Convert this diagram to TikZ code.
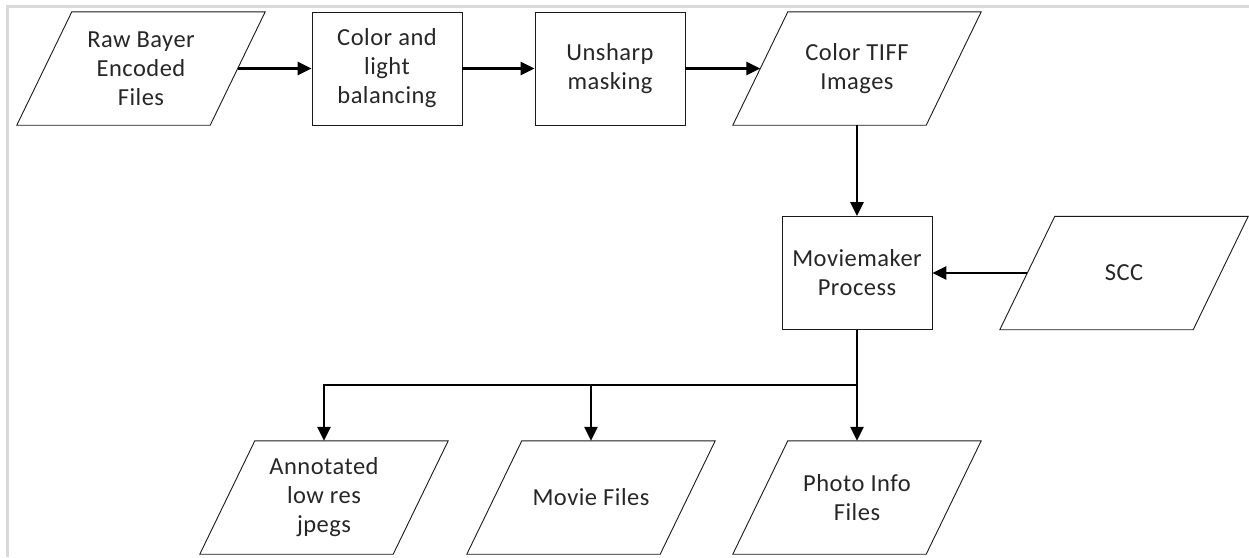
\documentclass[tikz,border=0pt]{standalone}
\usepackage{fontspec}
\setmainfont{Carlito}[LetterSpace=2]
\usetikzlibrary{arrows.meta}
\definecolor{framegray}{HTML}{D9D9D9}
\definecolor{txt}{HTML}{262626}
\definecolor{edge}{HTML}{1A1A1A}
\begin{document}
\begin{tikzpicture}[x=1pt,y=-1pt,
  lbl/.style={inner sep=0pt, align=center, text=txt, font=\fontsize{24.5}{29}\selectfont},
  procbox/.style={lbl, draw=edge, line width=0.9pt, minimum width=150pt, minimum height=113pt},
  iobox/.style={lbl, minimum width=193pt, minimum height=113pt},
  shapeline/.style={draw=edge, line width=0.9pt, line join=miter},
  flow/.style={line width=2.6pt, -{Triangle[length=14pt,width=13pt]}}]
\useasboundingbox (0,0) rectangle (1249,557);
\draw[framegray, line width=3pt] (7,557) -- (7,6) -- (1249,6);

% top row
\node[iobox]   (raw)  at (141,68.5) {Raw Bayer\\Encoded\\Files};
\node[procbox] (col)  at (387,68.5) {Color and\\light\\balancing};
\node[procbox] (uns)  at (610,68.5) {Unsharp\\masking};
\node[iobox]   (tiff) at (857,68.5) {Color TIFF\\Images};
% middle row
\node[procbox] (mm)   at (857,273) {Moviemaker\\Process};
\node[iobox]   (scc)  at (1124,273) {SCC};
% bottom row
\node[iobox]   (ann)  at (324,497.5) {Annotated\\low res\\jpegs};
\node[iobox]   (mov)  at (591,497.5) {Movie Files};
\node[iobox]   (pho)  at (857,497.5) {Photo Info\\Files};

\foreach \n in {raw,tiff,scc,ann,mov,pho}
  \draw[shapeline] ([xshift=27.5pt]\n.north west) -- ([xshift=27.5pt]\n.north east)
    -- ([xshift=-27.5pt]\n.south east) -- ([xshift=-27.5pt]\n.south west) -- cycle;

\draw[flow] (raw.east) -- (col.west);
\draw[flow] (col.east) -- (uns.west);
\draw[flow] (uns.east) -- (tiff.west);
\draw[flow] (tiff.south) -- (mm.north);
\draw[flow] (scc.west) -- (mm.east);

\coordinate (split) at (857,385);
\draw[flow] (mm.south) -- (split) -| (ann.north);
\draw[flow] (mov.north |- split) -- (mov.north);
\draw[flow] (split) -- (pho.north);
\end{tikzpicture}
\end{document}
